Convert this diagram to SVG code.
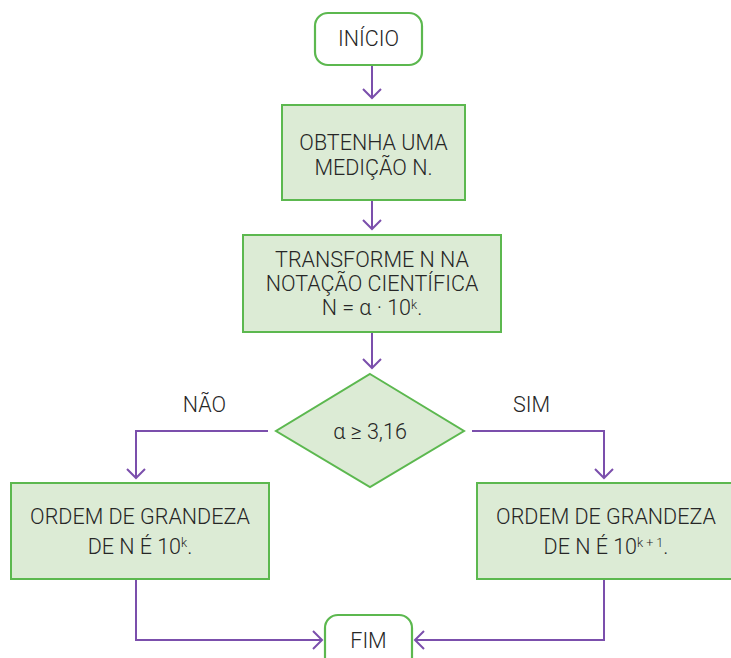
<svg xmlns="http://www.w3.org/2000/svg" width="731" height="658" viewBox="0 0 731 658">
  <defs>
    <marker id="arr" markerUnits="userSpaceOnUse" markerWidth="22" markerHeight="22" refX="11" refY="11" orient="auto" overflow="visible">
      <path d="M2,2 L11,11 L2,20" fill="none" stroke="#7b4fac" stroke-width="2"/>
    </marker>
  </defs>
  <style>
    .box { fill: #dcebd5; stroke: #5cb84f; stroke-width: 2; }
    .term { fill: #ffffff; stroke: #5cb84f; stroke-width: 2.2; }
    .t { font-family: Roboto, "Liberation Sans", Arial, sans-serif; font-weight: 300; font-size: 21.5px; fill: #262626; text-anchor: middle; }
    .sup { font-size: 12.5px; }
    .c { fill: none; stroke: #7b4fac; stroke-width: 2; marker-end: url(#arr); }
  </style>
  <rect width="731" height="658" fill="#ffffff"/>

  <g id="connectors">
    <path class="c" d="M372,65 L372,98"/>
    <path class="c" d="M372,200 L372,229"/>
    <path class="c" d="M372,332 L372,368"/>
    <path class="c" d="M268,431 L136,431 L136,478"/>
    <path class="c" d="M472,431 L604,431 L604,478"/>
    <path class="c" d="M136,579 L136,640 L322,640"/>
    <path class="c" d="M604,579 L604,640 L415,640"/>
  </g>

  <g id="inicio">
    <rect class="term" x="315" y="13" width="107" height="52" rx="13"/>
    <text class="t" x="368.5" y="46">INÍCIO</text>
  </g>

  <g id="obtenha">
    <rect class="box" x="282" y="105" width="183" height="95"/>
    <text class="t" x="373.5" y="150">OBTENHA UMA</text>
    <text class="t" x="373.5" y="175">MEDIÇÃO N.</text>
  </g>

  <g id="transforme">
    <rect class="box" x="243" y="235" width="258" height="97"/>
    <text class="t" x="372" y="267">TRANSFORME N NA</text>
    <text class="t" x="372" y="291">NOTAÇÃO CIENTÍFICA</text>
    <text class="t" x="372" y="315">N = α · 10<tspan class="sup" dy="-6">k</tspan><tspan dy="6">.</tspan></text>
  </g>

  <g id="decisao">
    <polygon class="box" points="370,374 464,431 370,487 276,431"/>
    <text class="t" x="370" y="439">α ≥ 3,16</text>
  </g>

  <g id="labels">
    <text class="t" x="204.5" y="412">NÃO</text>
    <text class="t" x="531.5" y="412">SIM</text>
  </g>

  <g id="ordem-k">
    <rect class="box" x="11" y="483" width="258" height="96"/>
    <text class="t" x="140" y="524">ORDEM DE GRANDEZA</text>
    <text class="t" x="140" y="554">DE N É 10<tspan class="sup" dy="-7">k</tspan><tspan dy="7">.</tspan></text>
  </g>

  <g id="ordem-k1">
    <rect class="box" x="477" y="483" width="258" height="96"/>
    <text class="t" x="606" y="524">ORDEM DE GRANDEZA</text>
    <text class="t" x="606" y="554">DE N É 10<tspan class="sup" dy="-7">k + 1</tspan><tspan dy="7">.</tspan></text>
  </g>

  <g id="fim">
    <rect class="term" x="325" y="615" width="87" height="58" rx="13"/>
    <text class="t" x="368.5" y="648">FIM</text>
  </g>
</svg>
